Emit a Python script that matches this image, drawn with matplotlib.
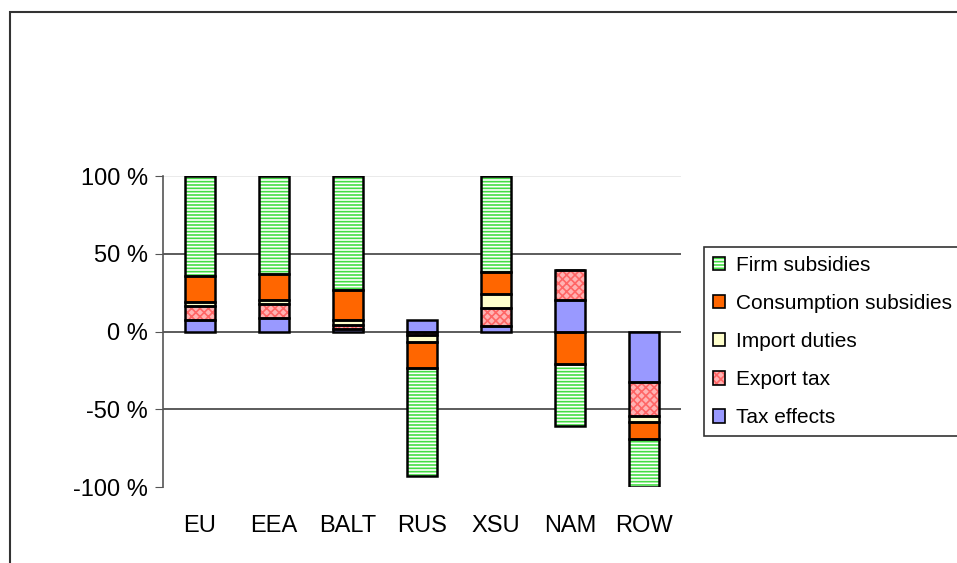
import numpy as np
import matplotlib.pyplot as plt
from matplotlib.patches import Rectangle, Patch
from matplotlib.ticker import FuncFormatter

plt.rcParams['font.family'] = ['Liberation Sans', 'DejaVu Sans']
plt.rcParams['hatch.linewidth'] = 1.2

regions = ['EU', 'EEA', 'BALT', 'RUS', 'XSU', 'NAM', 'ROW']

# shares in % (stacked bottom to top)
tax_effects = [7.3, 8.6, 1.3, 7.3, 3.6, 20.0, -32.6]
export_tax = [9.0, 9.2, 2.8, -2.5, 11.6, 19.3, -21.9]
import_duties = [2.5, 2.6, 3.2, -4.2, 8.8, 0.0, -3.5]
consumption_subsidies = [16.6, 16.3, 19.3, -16.8, 14.2, -20.8, -11.0]
firm_subsidies = [64.6, 63.3, 73.4, -69.5, 61.8, -40.1, -31.0]

series = [
    ('Tax effects', tax_effects, '#9999ff', None, '#9999ff'),
    ('Export tax', export_tax, '#ffb3b3', 'xxxx', '#ff6666'),
    ('Import duties', import_duties, '#ffffcc', None, '#ffffcc'),
    ('Consumption subsidies', consumption_subsidies, '#ff6600', None, '#ff6600'),
    ('Firm subsidies', firm_subsidies, '#ffffff', '-----', '#44dd44'),
]

fig = plt.figure(figsize=(9.57, 5.63), dpi=100)
ax = fig.add_axes([163 / 957, 1 - 487 / 563, (681 - 163) / 957, (487 - 176) / 563])

# outer chart frame
fig.patches.append(Rectangle((10 / 957, -0.1), 1.0, 1.1 - 12 / 563, transform=fig.transFigure,
                             fill=False, edgecolor='#333333', linewidth=1.5, zorder=0))

x = np.arange(len(regions))
width = 0.41
pos_bottom = np.zeros(len(regions))
neg_bottom = np.zeros(len(regions))
handles = []
for name, vals, face, hatch, hcol in series:
    vals = np.array(vals)
    bottom = np.where(vals >= 0, pos_bottom, neg_bottom)
    ax.bar(x, vals, width, bottom=bottom, color=face, hatch=hatch, edgecolor=hcol,
           linewidth=0, zorder=2)
    ax.bar(x, vals, width, bottom=bottom, fill=False, edgecolor='black',
           linewidth=1.8, zorder=3)
    pos_bottom += np.where(vals >= 0, vals, 0)
    neg_bottom += np.where(vals < 0, vals, 0)
    handles.append(Patch(facecolor=face, hatch=hatch, edgecolor=hcol, linewidth=0))

ax.set_xlim(-0.5, len(regions) - 0.5)
ax.set_ylim(-100, 100)
ax.set_yticks([-100, -50, 0, 50, 100])
ax.yaxis.set_major_formatter(FuncFormatter(lambda v, p: f'{v:.0f} %'.replace('\u2212', '-')))
for yv in [-50, 0, 50]:
    ax.axhline(yv, color='#404040', linewidth=1.2, zorder=1)
ax.axhline(100, color='#e6e6e6', linewidth=1.2, zorder=1)

for side in ['top', 'right', 'bottom']:
    ax.spines[side].set_visible(False)
ax.spines['left'].set_color('#555555')
ax.spines['left'].set_linewidth(1.2)
ax.tick_params(axis='y', length=6, color='#555555', labelsize=17, pad=5)
ax.set_xticks(x)
ax.set_xticklabels(regions)
ax.tick_params(axis='x', length=0, labelsize=17, pad=20)

# legend with black-edged square keys, top entry = top of the stack
leg_handles = []
for h in handles[::-1]:
    leg_handles.append((h, Patch(fill=False, edgecolor='black', linewidth=1.2)))
names = [s[0] for s in series][::-1]
leg = fig.legend(leg_handles, names, loc='upper left', bbox_to_anchor=(704 / 957, 1 - 247 / 563),
                 frameon=True, fancybox=False, edgecolor='black', fontsize=15,
                 handlelength=0.6, handleheight=0.6, handletextpad=0.5,
                 labelspacing=0.92, borderpad=0.42, borderaxespad=0)
leg.get_frame().set_linewidth(1.2)

fig.savefig('out.png', dpi=100)
